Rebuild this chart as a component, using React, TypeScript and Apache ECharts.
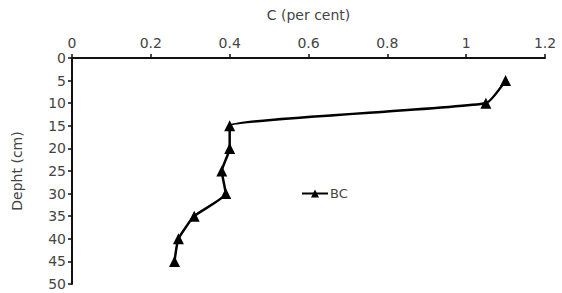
import React, { useEffect, useRef } from "react";
import * as echarts from "echarts";

const depths = [5, 10, 15, 20, 25, 30, 35, 40, 45];
const carbon = [1.1, 1.05, 0.4, 0.4, 0.38, 0.39, 0.31, 0.27, 0.26];
const seriesName = "BC";

export default function App() {
  const ref = useRef<HTMLDivElement>(null);
  useEffect(() => {
    const chart = echarts.init(ref.current!, null, { renderer: "svg" });
    const font = "DejaVu Sans";
    chart.setOption({
      animation: false,
      backgroundColor: "#fff",
      textStyle: { fontFamily: font },
      grid: { left: 72, right: 17, top: 58, bottom: 9, containLabel: false },
      legend: {
        left: 296,
        top: 182,
        itemWidth: 26,
        itemHeight: 10,
        itemGap: 2,
        textStyle: { fontFamily: font, fontSize: 13, color: "#444", padding: [0, 0, 0, -3] },
        data: [{ name: seriesName }],
      },
      xAxis: {
        type: "value",
        position: "top",
        min: 0,
        max: 1.2,
        interval: 0.2,
        name: "C (per cent)",
        nameLocation: "middle",
        nameGap: 36,
        nameTextStyle: { fontFamily: font, fontSize: 14, color: "#444" },
        axisLine: { show: true, lineStyle: { color: "#111", width: 2 } },
        axisTick: { show: true, inside: false, length: 4, lineStyle: { color: "#111", width: 1.5 } },
        axisLabel: { fontFamily: font, fontSize: 14, color: "#444", margin: 8 },
        splitLine: { show: false },
      },
      yAxis: {
        type: "value",
        inverse: true,
        min: 0,
        max: 50,
        interval: 5,
        name: "Depht (cm)",
        nameLocation: "middle",
        nameGap: 48,
        nameRotate: 90,
        nameTextStyle: { fontFamily: font, fontSize: 14, color: "#444" },
        axisLine: { show: true, lineStyle: { color: "#111", width: 2 } },
        axisTick: { show: true, inside: false, length: 4, lineStyle: { color: "#111", width: 1.5 } },
        axisLabel: { fontFamily: font, fontSize: 14, color: "#444", margin: 6 },
        splitLine: { show: false },
      },
      series: [
        {
          name: seriesName,
          type: "line",
          smooth: 0.15,
          data: depths.map((d, i) => [carbon[i], d]),
          symbol: "triangle",
          symbolSize: 11,
          lineStyle: { color: "#000", width: 2.5 },
          itemStyle: { color: "#000" },
        },
      ],
    });
    return () => chart.dispose();
  }, []);
  return <div ref={ref} style={{ width: 562, height: 293, position: "absolute", left: 0, top: 0 }} />;
}
